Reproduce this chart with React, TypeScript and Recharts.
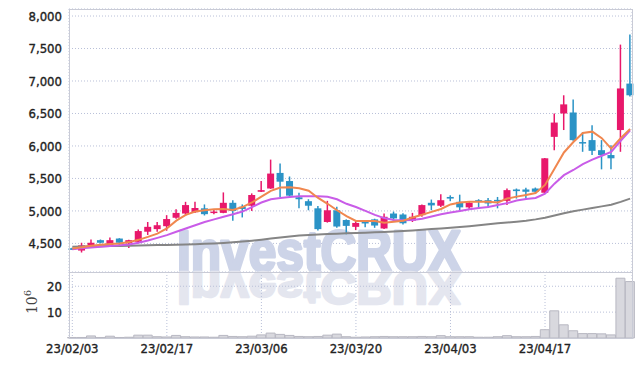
import React from 'react'
import {ComposedChart, Bar, Line, XAxis, YAxis, CartesianGrid} from 'recharts'

// trading days, 23/02/03 .. 23/04/28
const dates = [
  '23/02/03', '23/02/06', '23/02/07', '23/02/08', '23/02/09', '23/02/10',
  '23/02/13', '23/02/14', '23/02/15', '23/02/16', '23/02/17',
  '23/02/20', '23/02/21', '23/02/22', '23/02/23', '23/02/24',
  '23/02/27', '23/02/28', '23/03/02', '23/03/03',
  '23/03/06', '23/03/07', '23/03/08', '23/03/09', '23/03/10',
  '23/03/13', '23/03/14', '23/03/15', '23/03/16', '23/03/17',
  '23/03/20', '23/03/21', '23/03/22', '23/03/23', '23/03/24',
  '23/03/27', '23/03/28', '23/03/29', '23/03/30', '23/03/31',
  '23/04/03', '23/04/04', '23/04/05', '23/04/06', '23/04/07',
  '23/04/10', '23/04/11', '23/04/12', '23/04/13', '23/04/14',
  '23/04/17', '23/04/18', '23/04/19', '23/04/20', '23/04/21',
  '23/04/24', '23/04/25', '23/04/26', '23/04/27', '23/04/28'
]

const openP = [
  4425, 4390, 4470, 4550, 4475, 4575, 4500, 4525, 4680, 4720,
  4765, 4895, 4960, 4980, 5040, 4975, 4970, 5125, 5065, 5080,
  5295, 5345, 5585, 5460, 5210, 5150, 5040, 4830, 5010, 4860,
  4755, 4830, 4870, 4730, 4960, 4945, 4850, 4935, 5125, 5080,
  5215, 5140, 5055, 5165, 5165, 5170, 5155, 5330, 5330, 5345,
  5280, 6140, 6500, 6515, 6060, 6090, 5935, 5860, 6245, 6960
]
const closeP = [
  4410, 4470, 4510, 4510, 4550, 4510, 4550, 4690, 4755, 4780,
  4875, 4970, 5090, 5045, 4950, 4990, 5125, 5000, 5030, 5245,
  5320, 5575, 5450, 5235, 5180, 5080, 4720, 5010, 4760, 4770,
  4815, 4810, 4775, 4910, 4885, 4810, 4910, 5090, 5085, 5165,
  5190, 5055, 5125, 5140, 5115, 5160, 5320, 5305, 5295, 5295,
  5810, 6360, 6640, 6090, 6050, 5925, 5860, 5810, 6885, 6780
]
const highP = [
  4435, 4510, 4560, 4560, 4590, 4580, 4555, 4715, 4830, 4830,
  4935, 5025, 5140, 5140, 5100, 5025, 5285, 5165, 5100, 5270,
  5460, 5790, 5730, 5530, 5280, 5180, 5075, 5155, 5065, 4870,
  4850, 4860, 4880, 4960, 4990, 4965, 4970, 5100, 5175, 5255,
  5240, 5250, 5140, 5180, 5200, 5215, 5345, 5345, 5355, 5360,
  5815, 6500, 6780, 6715, 6215, 6320, 6090, 6010, 7560, 7715
]
const lowP = [
  4400, 4360, 4460, 4500, 4460, 4460, 4430, 4520, 4630, 4680,
  4695, 4880, 4925, 4970, 4930, 4950, 4965, 4850, 4900, 5000,
  5290, 5340, 5215, 5230, 5040, 5010, 4700, 4820, 4740, 4640,
  4705, 4750, 4740, 4720, 4830, 4790, 4830, 4910, 5010, 5060,
  5150, 5010, 5030, 5030, 5050, 5040, 5090, 5190, 5180, 5270,
  5275, 5935, 6245, 6080, 5910, 5860, 5640, 5640, 5910, 6760
]

const ma5 = [
  4423, 4440, 4465, 4480, 4490, 4500, 4520, 4555, 4600, 4650,
  4730, 4850, 4940, 4990, 5010, 5025, 5030, 5015, 5060, 5130,
  5220, 5310, 5360, 5365, 5350, 5310, 5200, 5110, 5010, 4920,
  4845, 4845, 4845, 4817, 4835, 4850, 4900, 4940, 4985, 5030,
  5100, 5130, 5140, 5140, 5140, 5130, 5190, 5220, 5245, 5275,
  5400, 5650, 5900, 6060, 6200, 6220, 6120, 5960, 6120, 6260
]
const ma20 = [
  4412, 4425, 4437, 4448, 4460, 4472, 4485, 4510, 4545, 4585,
  4628, 4680, 4730, 4780, 4830, 4870, 4910, 4950, 4990, 5060,
  5130, 5180, 5200, 5215, 5225, 5227, 5225, 5217, 5180, 5110,
  5060, 5000, 4940, 4890, 4860, 4858, 4860, 4880, 4915, 4950,
  4975, 5000, 5025, 5045, 5060, 5090, 5120, 5160, 5185, 5200,
  5265, 5420, 5550, 5630, 5720, 5790, 5850, 5910, 6080, 6240
]
const ma60 = [
  4450, 4452, 4455, 4457, 4460, 4462, 4465, 4468, 4471, 4474,
  4477, 4481, 4485, 4489, 4494, 4500, 4508, 4517, 4528, 4542,
  4558, 4575, 4592, 4608, 4620, 4630, 4638, 4645, 4650, 4655,
  4660, 4665, 4670, 4676, 4683, 4692, 4700, 4710, 4720, 4730,
  4742, 4754, 4766, 4780, 4795, 4810, 4822, 4835, 4850, 4870,
  4895, 4930, 4965, 4995, 5020, 5045, 5070, 5095, 5140, 5190
]
// volume, millions
const volume = [
  0.2, 0.2, 0.8, 0.2, 0.7, 0.2, 0.3, 1.1, 1.1, 0.5,
  0.4, 1.0, 0.5, 0.4, 0.4, 0.3, 1.0, 0.6, 0.5, 0.7,
  1.2, 1.9, 1.4, 1.0, 0.6, 0.5, 0.6, 1.1, 1.5, 0.5,
  0.3, 0.4, 0.5, 0.6, 0.5, 0.5, 0.5, 0.6, 0.5, 0.9,
  0.5, 0.5, 0.5, 0.3, 0.3, 0.5, 0.9, 0.5, 0.5, 0.6,
  3.2, 10.5, 5.1, 2.8, 1.7, 1.7, 1.6, 1.2, 23.1, 21.8
]

const priceTicks = [4500, 5000, 5500, 6000, 6500, 7000, 7500, 8000]
const volTicks = [10, 20]
const dateTicks = [0, 10, 20, 30, 40, 50]

const data = dates.map((d, i) => ({
  idx: i,
  date: d,
  open: openP[i],
  close: closeP[i],
  high: highP[i],
  low: lowP[i],
  ma5: ma5[i],
  ma20: ma20[i],
  ma60: ma60[i],
  vol: volume[i]
}))

const UP = '#e8186b'
const DOWN = '#2b93c6'
const GRID = '#b9c0d8'
const FONT = '"DejaVu Sans Condensed", "DejaVu Sans", sans-serif'
const xDomain = [-0.35, 59.2]
const priceDomain = [4060, 8108]

const Candle = (props: any) => {
  const {x, y, width, height, payload} = props
  if (!payload) return null
  const top = Math.min(y, y + height)
  const span = Math.abs(height)
  const {open, close, high, low} = payload
  const ppu = span / (high - low || 1)
  const yO = top + (high - open) * ppu
  const yC = top + (high - close) * ppu
  const color = close >= open ? UP : DOWN
  const cx = x + width / 2
  return (
    <g>
      <line x1={cx} x2={cx} y1={top} y2={top + span} stroke={color} strokeWidth={1.5} />
      <rect x={x} y={Math.min(yO, yC)} width={width} height={Math.max(Math.abs(yO - yC), 1.5)} fill={color} />
    </g>
  )
}

const tickStyle = {fontFamily: FONT, fontSize: 13, fill: '#222', stroke: '#222', strokeWidth: 0.35}

export default function App() {
  return (
    <div style={{position: 'absolute', left: 0, top: 0, width: 642, height: 366, overflow: 'hidden', background: '#fff'}}>
      {/* price grid only, sits under the watermark */}
      <div style={{position: 'absolute', left: 0, top: 0}}>
        <ComposedChart width={642} height={272} data={data} margin={{top: 9, right: 10, left: 0, bottom: 0}}>
          <CartesianGrid stroke={GRID} strokeDasharray='1 2' />
          <XAxis dataKey='idx' type='number' domain={xDomain} ticks={dateTicks} height={0}
            tick={false} axisLine={false} tickLine={false} />
          <YAxis domain={priceDomain} ticks={priceTicks} width={69} axisLine={false} tickLine={false}
            tickSize={0} tickMargin={7} tick={tickStyle} tickFormatter={(v) => v.toLocaleString('en-US')} />
          <Line dataKey='ma60' stroke='none' dot={false} isAnimationActive={false} />
        </ComposedChart>
      </div>

      <svg width={642} height={366} style={{position: 'absolute', left: 0, top: 0}}>
        <text x={177} y={271} textLength={284} lengthAdjust='spacingAndGlyphs'
          fontFamily='"Liberation Sans", Arial, sans-serif' fontWeight='bold' fontSize={57}
          fill='#cdd4e8' stroke='#cdd4e8' strokeWidth={3} strokeLinejoin='round'>
          InvestCRUX
        </text>
        <text x={177} y={271} textLength={284} lengthAdjust='spacingAndGlyphs' transform='translate(0,493.8) scale(1,-0.82)'
          fontFamily='"Liberation Sans", Arial, sans-serif' fontWeight='bold' fontSize={57}
          fill='#e4e6ef' stroke='#e4e6ef' strokeWidth={3} strokeLinejoin='round'>
          InvestCRUX
        </text>
        <text transform='translate(37,302) rotate(-90)' textAnchor='middle' fontFamily='"DejaVu Serif", serif' fontSize={14} fill='#444'>
          10<tspan dy={-6} fontSize={10}>6</tspan>
        </text>
      </svg>

      {/* price series */}
      <div style={{position: 'absolute', left: 0, top: 0}}>
        <ComposedChart width={642} height={272} data={data} margin={{top: 9, right: 10, left: 0, bottom: 0}}>
          <XAxis dataKey='idx' type='number' domain={xDomain} ticks={dateTicks} height={0}
            tick={false} axisLine={false} tickLine={false} />
          <YAxis domain={priceDomain} ticks={priceTicks} width={69} axisLine={false} tickLine={false} tick={false} />
          <Line type='linear' dataKey='ma60' stroke='#858585' strokeWidth={2} dot={false} isAnimationActive={false} />
          <Line type='linear' dataKey='ma20' stroke='#c95ce8' strokeWidth={2} dot={false} isAnimationActive={false} />
          <Line type='linear' dataKey='ma5' stroke='#f0874f' strokeWidth={2} dot={false} isAnimationActive={false} />
          <Bar dataKey={(d) => [d.low, d.high]} barSize={7} shape={<Candle />} isAnimationActive={false} />
        </ComposedChart>
      </div>

      <div style={{position: 'absolute', left: 0, top: 272}}>
        <ComposedChart width={642} height={94} data={data} margin={{top: 0, right: 10, left: 0, bottom: 0}} barCategoryGap={0}>
          <CartesianGrid stroke={GRID} strokeDasharray='1 2' />
          <XAxis dataKey='idx' type='number' domain={xDomain} ticks={dateTicks} height={28}
            axisLine={false} tickLine={false} tickSize={0} tickMargin={6} tick={tickStyle}
            tickFormatter={(i) => dates[i]} />
          <YAxis domain={[0, 25.5]} ticks={volTicks} width={69} axisLine={false} tickLine={false}
            tickSize={0} tickMargin={7} tick={tickStyle} />
          <Bar dataKey='vol' fill='#d8d8de' stroke='#b8b8c2' strokeWidth={1} isAnimationActive={false} />
        </ComposedChart>
      </div>

      <div style={{position: 'absolute', left: 69, top: 9, width: 562, height: 328, border: '1px solid #c9cbd6', pointerEvents: 'none'}} />
      <div style={{position: 'absolute', left: 69, top: 272, width: 564, height: 1, background: '#c9cbd6', pointerEvents: 'none'}} />
    </div>
  )
}
